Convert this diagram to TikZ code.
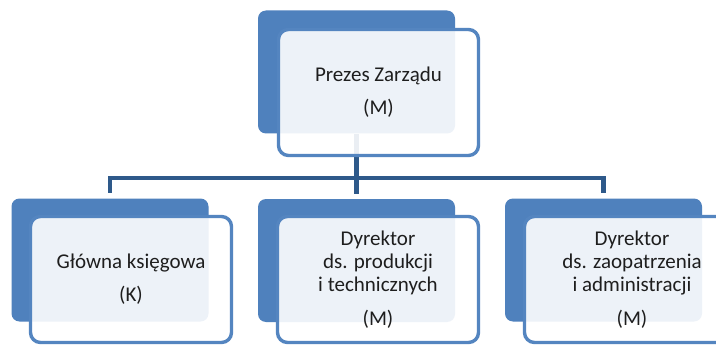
\documentclass[tikz,border=0pt]{standalone}
\usepackage{fontspec}
\setmainfont{Carlito}
\definecolor{boxblue}{RGB}{79,129,189}
\definecolor{edgeblue}{RGB}{84,133,192}
\definecolor{connblue}{RGB}{46,89,138}
\definecolor{txt}{RGB}{30,30,30}
\begin{document}
\begin{tikzpicture}[x=1pt,y=-1pt,
  backbox/.style={rectangle, rounded corners=8pt, fill=boxblue, draw=none,
    inner sep=0pt, minimum width=197pt, minimum height=123pt},
  frontbox/.style={rectangle, rounded corners=10pt, draw=edgeblue, line width=3.4pt,
    fill=white, fill opacity=0.9, text opacity=1, text=txt, inner sep=0pt,
    minimum height=126pt, align=center, font=\fontsize{21}{23.3}\selectfont},
  conn/.style={draw=connblue, line width=4.5pt}]
\useasboundingbox (0,0) rectangle (716,345);
\clip (0,0) rectangle (716,345);
\fill[white] (0,0) rectangle (716,345);
% back boxes
\node[backbox] (topback) at (356.5,72) {};
\node[backbox] (leftback) at (110,260) {};
\node[backbox] (midback) at (356.5,260.5) {};
\node[backbox] (rightback) at (603.5,260) {};
% connectors
\coordinate (bus) at (356.5,178);
\draw[conn] (topback.south) -- (bus);
\draw[conn, shorten >=5pt] (bus) -| (leftback.north);
\draw[conn, shorten >=5pt] (bus) -| (rightback.north);
\draw[conn, shorten >=5pt] (bus) -- (midback.north);
% front boxes
\node[frontbox, minimum width=200pt] (topfront) at (378.5,92.5)
  {Prezes Zarządu\\[10pt](M)};
\node[frontbox, minimum width=201pt] (leftfront) at (131,279.5)
  {Główna księgowa\\[10pt](K)};
\node[frontbox, minimum width=201pt] (midfront) at (378,279.5)
  {Dyrektor\\ds. produkcji\\i technicznych\\[10pt](M)};
\node[frontbox, minimum width=215pt] (rightfront) at (632,279.5)
  {Dyrektor\\ds. zaopatrzenia\\i administracji\\[10pt](M)};
\end{tikzpicture}
\end{document}
